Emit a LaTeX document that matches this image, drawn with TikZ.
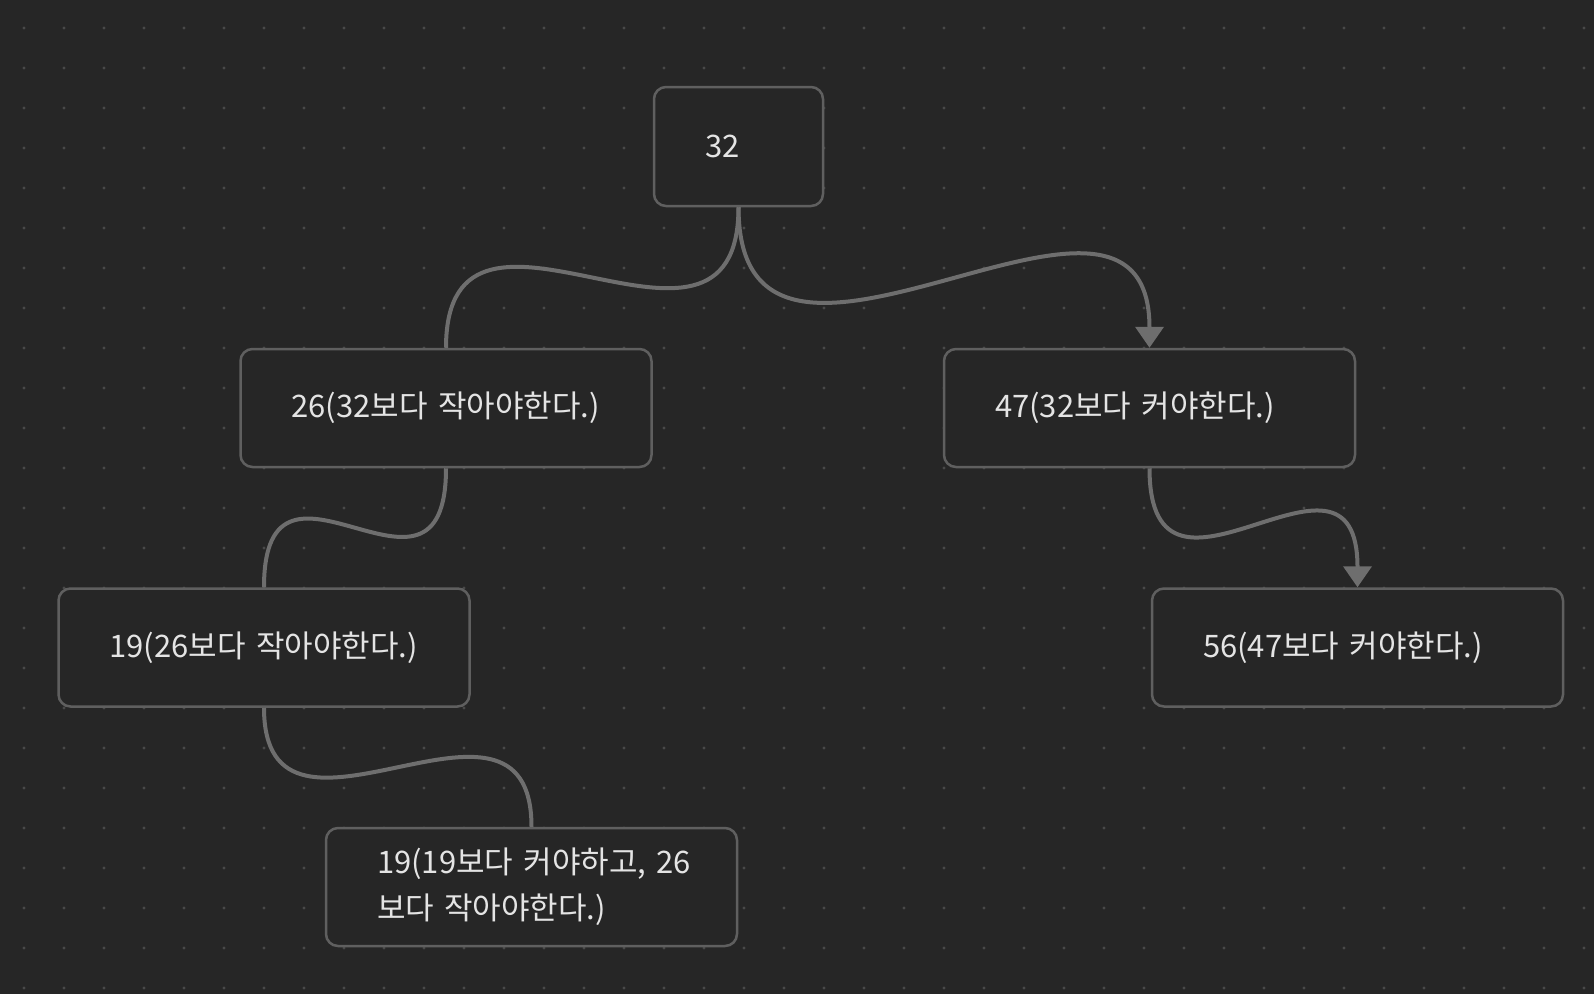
\documentclass[tikz,border=0pt]{standalone}
\usepackage{fontspec}
\setmainfont{Noto Sans CJK KR}
\usetikzlibrary{arrows.meta}
\definecolor{bgc}{HTML}{262626}
\definecolor{dotc}{HTML}{494949}
\definecolor{edgec}{HTML}{6E6E6E}
\definecolor{borderc}{HTML}{5F5F5F}
\definecolor{txtc}{HTML}{E4E4E4}
\tikzset{
  box/.style={draw=borderc, line width=2.5pt, rounded corners=12pt, fill=bgc,
    text=txtc, inner xsep=51pt, inner ysep=0pt, minimum height=118pt,
    align=left, font=\fontsize{31}{46}\selectfont},
  edge/.style={draw=edgec, line width=4pt},
  tip/.style={-{Triangle[length=21pt,width=28pt]}}
}
\begin{document}
\begin{tikzpicture}[x=1pt,y=-1pt]
\fill[bgc] (0,0) rectangle (1594,994);
\useasboundingbox (0,0) rectangle (1594,994);
\foreach \i in {0,...,39}{
  \foreach \j in {0,...,24}{
    \fill[dotc] (24+40*\i, 28+40*\j) circle (1.6pt);
  }
}
\node[box, text width=67pt, minimum height=119pt] (n32) at (738.5,146.5) {32};
\node[box, text width=309pt] (n26) at (446,408) {\mbox{26(32보다 작아야한다.)}};
\node[box, text width=309pt] (n47) at (1149.5,408) {\mbox{47(32보다 커야한다.)}};
\node[box, text width=309pt] (n19) at (264,647.5) {\mbox{19(26보다 작아야한다.)}};
\node[box, text width=309pt] (n56) at (1357.5,647.5) {\mbox{56(47보다 커야한다.)}};
\node[box, text width=309pt] (nb) at (531.5,887) {\mbox{19(19보다 커야하고, 26}\\\mbox{보다 작아야한다.)}};
\draw[edge] (n32.south) .. controls +(0,200) and +(0,-200) .. (n26.north);
\draw[edge, tip] (n32.south) .. controls +(0,250) and +(0,-235) .. (n47.north);
\draw[edge] (n26.south) .. controls +(0,170) and +(0,-170) .. (n19.north);
\draw[edge, tip] (n47.south) .. controls +(0,175) and +(0,-175) .. (n56.north);
\draw[edge] (n19.south) .. controls +(0,175) and +(0,-175) .. (nb.north);
\end{tikzpicture}
\end{document}
